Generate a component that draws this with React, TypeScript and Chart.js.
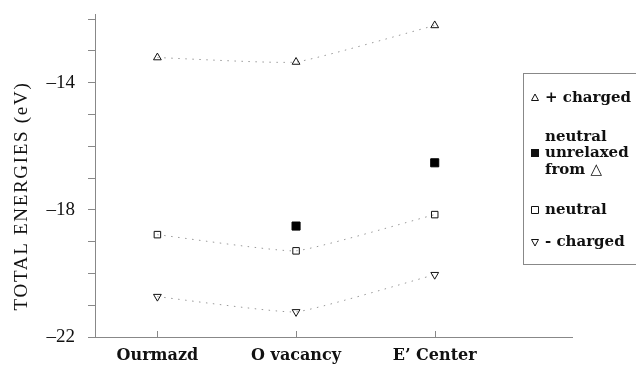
import React, { useEffect, useRef } from "react";
import { Chart, registerables } from "chart.js";

Chart.register(...registerables);

const categories = ["Ourmazd", "O vacancy", "E\u2019 Center"];
const plusCharged = [-13.21, -13.35, -12.2];
const neutralUnrelaxed = [null, -18.51, -16.52];
const neutral = [-18.78, -19.29, -18.15];
const minusCharged = [-20.73, -21.21, -20.04];
const yTickValues = [-22, -21, -20, -19, -18, -17, -16, -15, -14, -13, -12];
const yTickLabels = [-14, -18, -22];
const yTitle = "TOTAL ENERGIES (eV)";
const legendItems = [
  { marker: "triangle", lines: ["+ charged"] },
  { marker: "filled", lines: ["neutral", "unrelaxed", "from \u25b3"] },
  { marker: "square", lines: ["neutral"] },
  { marker: "down", lines: ["- charged"] },
];

const SERIF = "'DejaVu Serif', serif";
const TIMES = "'Liberation Serif', serif";

function toPoints(vals: (number | null)[]) {
  return vals
    .map((v, i) => (v === null ? null : { x: i, y: v }))
    .filter((p) => p !== null);
}

function drawMarker(ctx: CanvasRenderingContext2D, kind: string, x: number, y: number) {
  ctx.save();
  ctx.lineWidth = 1;
  ctx.strokeStyle = "#111";
  ctx.fillStyle = "#111";
  ctx.beginPath();
  if (kind === "triangle") {
    ctx.moveTo(x, y - 4);
    ctx.lineTo(x + 3.5, y + 2.5);
    ctx.lineTo(x - 3.5, y + 2.5);
    ctx.closePath();
    ctx.stroke();
  } else if (kind === "down") {
    ctx.moveTo(x, y + 4);
    ctx.lineTo(x + 3.5, y - 2.5);
    ctx.lineTo(x - 3.5, y - 2.5);
    ctx.closePath();
    ctx.stroke();
  } else if (kind === "square") {
    ctx.rect(x - 3.5, y - 3.5, 7, 7);
    ctx.stroke();
  } else {
    ctx.rect(x - 4, y - 4, 8, 8);
    ctx.fill();
  }
  ctx.restore();
}

const extrasPlugin = {
  id: "extras",
  afterDatasetsDraw(chart: any) {
    const ctx = chart.ctx as CanvasRenderingContext2D;
    const xs = chart.scales.x;
    const area = chart.chartArea;
    // inward ticks on x axis
    ctx.save();
    ctx.strokeStyle = "#888";
    ctx.lineWidth = 1;
    categories.forEach((_, i) => {
      const px = Math.round(xs.getPixelForValue(i)) + 0.5;
      ctx.beginPath();
      ctx.moveTo(px, area.bottom);
      ctx.lineTo(px, area.bottom - 6);
      ctx.stroke();
    });
    ctx.restore();

    // y axis title
    ctx.save();
    ctx.translate(22, 196);
    ctx.rotate(-Math.PI / 2);
    ctx.fillStyle = "#111";
    ctx.font = `19px ${TIMES}`;
    (ctx as any).letterSpacing = "1.7px";
    ctx.textAlign = "center";
    ctx.textBaseline = "middle";
    ctx.fillText(yTitle, 0, 0);
    ctx.restore();

    // legend box
    const left = 523;
    const top = 73;
    const bottom = 264;
    ctx.save();
    ctx.fillStyle = "#fff";
    ctx.fillRect(left, top, chart.width - left + 2, bottom - top);
    ctx.strokeStyle = "#888";
    ctx.lineWidth = 1;
    ctx.strokeRect(left + 0.5, top + 0.5, chart.width - left + 4, bottom - top);
    ctx.fillStyle = "#111";
    ctx.font = `bold 15px ${SERIF}`;
    ctx.textBaseline = "middle";
    ctx.textAlign = "left";
    const rows: number[][] = [[98], [137, 153, 170], [210], [242]];
    legendItems.forEach((item, k) => {
      const ys = rows[k];
      const mid = item.lines.length === 3 ? ys[1] : ys[0];
      drawMarker(ctx, item.marker, 535, mid);
      item.lines.forEach((t, j) => {
        ctx.fillText(t, 545, ys[j]);
      });
    });
    ctx.restore();
  },
};

export default function App() {
  const ref = useRef<HTMLCanvasElement | null>(null);
  useEffect(() => {
    if (!ref.current) return;
    const lineBase = {
      type: "line",
      showLine: true,
      borderColor: "#999",
      borderWidth: 1,
      borderDash: [1.5, 5.5],
      tension: 0.12,
      pointBorderColor: "#111",
      pointBackgroundColor: "rgba(0,0,0,0)",
      pointBorderWidth: 1,
    };
    const chart = new Chart(ref.current, {
      type: "line",
      data: {
        datasets: [
          { ...lineBase, label: "+ charged", data: toPoints(plusCharged), pointStyle: "triangle", pointRadius: 4.5 },
          {
            type: "line",
            label: "neutral unrelaxed",
            data: toPoints(neutralUnrelaxed),
            showLine: false,
            pointStyle: "rect",
            pointRadius: 5.7,
            pointBackgroundColor: "#000",
            pointBorderColor: "#000",
          },
          { ...lineBase, label: "neutral", data: toPoints(neutral), pointStyle: "rect", pointRadius: 4.6 },
          { ...lineBase, label: "- charged", data: toPoints(minusCharged), pointStyle: "triangle", pointRotation: 180, pointRadius: 4.5 },
        ] as any,
      },
      options: {
        animation: false,
        responsive: false,
        layout: { padding: { left: 0, top: 14, right: 64, bottom: 0 } },
        plugins: { legend: { display: false }, tooltip: { enabled: false } },
        scales: {
          x: {
            type: "linear",
            min: -0.45,
            max: 2.99,
            afterBuildTicks: (s: any) => {
              s.ticks = categories.map((_, i) => ({ value: i }));
            },
            afterFit: (s: any) => {
              s.height = 30;
              s.paddingLeft = 0;
              s.paddingRight = 0;
            },
            border: { display: true, color: "#888", width: 1 },
            grid: { display: false, drawTicks: false },
            ticks: {
              padding: 9,
              color: "#111",
              font: { family: SERIF, size: 16, weight: "bold" },
              callback: (v: any) => categories[v] ?? "",
            },
          },
          y: {
            type: "linear",
            min: -22,
            max: -11.84,
            afterBuildTicks: (s: any) => {
              s.ticks = yTickValues.map((v) => ({ value: v }));
            },
            afterFit: (s: any) => {
              s.width = 95;
              s.paddingTop = 0;
              s.paddingBottom = 0;
            },
            border: { display: true, color: "#888", width: 1 },
            grid: { drawOnChartArea: false, drawTicks: true, tickLength: 7, color: "#888" },
            ticks: {
              padding: 13,
              color: "#111",
              font: { family: TIMES, size: 19 },
              autoSkip: false,
              callback: (v: any) => (yTickLabels.includes(v) ? "\u2013" + String(Math.abs(v)) : ""),
            },
            title: { display: false },
          },
        },
      },
      plugins: [extrasPlugin],
    } as any);
    return () => chart.destroy();
  }, []);
  return (
    <div style={{ position: "fixed", left: 0, top: 0, width: 636, height: 367, background: "#fff" }}>
      <canvas ref={ref} width={636} height={367} />
    </div>
  );
}
